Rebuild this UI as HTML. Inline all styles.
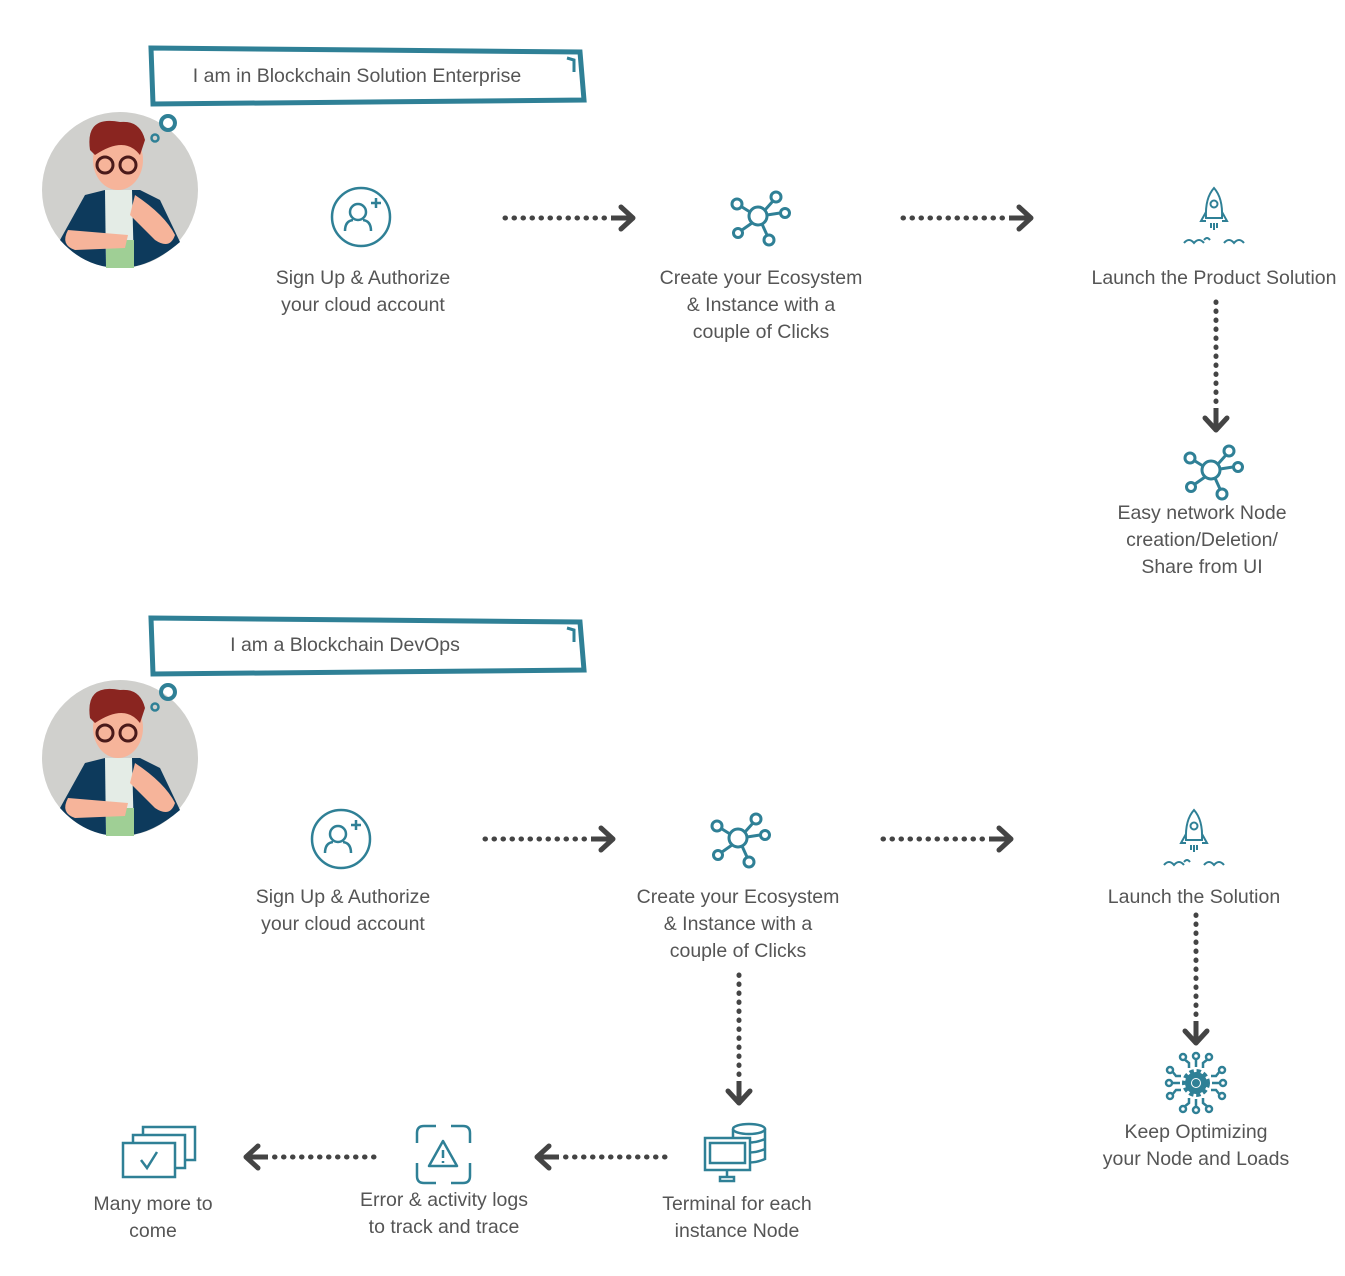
<!DOCTYPE html>
<html><head><meta charset="utf-8"><style>
html,body{margin:0;padding:0;background:#fff;}
svg{display:block;}
text{font-family:"Liberation Sans",sans-serif;font-size:19.5px;fill:#555;text-anchor:middle;}
</style></head><body>
<svg width="1345" height="1276" viewBox="0 0 1345 1276" xmlns="http://www.w3.org/2000/svg">
<defs>
<g id="avatar">
  <circle cx="0" cy="0" r="78" fill="#d0d0cd"/>
  <path d="M-60,50 L-35,5 L-15,0 L20,0 L40,10 L60,52 Q30,78 0,78 Q-35,78 -60,50Z" fill="#0d3a5c"/>
  <path d="M-15,0 L12,0 L14,78 L-14,78Z" fill="#e4ece6"/>
  <path d="M-14,50 L14,50 L14,78 L-14,78Z" fill="#9fcf95"/>
  <path d="M-52,40 Q-60,55 -45,60 L5,58 L8,45 Z" fill="#f6b49a"/>
  <path d="M15,5 Q45,25 55,45 Q50,60 35,50 L10,25Z" fill="#f6b49a"/>
  <ellipse cx="-2" cy="-30" rx="25" ry="30" fill="#f6b49a"/>
  <path d="M-30,-40 Q-35,-75 0,-68 Q20,-70 25,-50 L20,-35 Q5,-55 -25,-35Z" fill="#8a2520"/>
  <circle cx="-15" cy="-25" r="8" fill="none" stroke="#4a1a1a" stroke-width="3"/>
  <circle cx="8" cy="-25" r="8" fill="none" stroke="#4a1a1a" stroke-width="3"/>
</g>
<g id="net" fill="none" stroke="#2f8096" stroke-width="3">
  <circle cx="0" cy="0" r="9"/>
  <line x1="7" y1="-6" x2="15" y2="-15"/><circle cx="18" cy="-19" r="5"/>
  <line x1="9" y1="-1" x2="22" y2="-3"/><circle cx="27" cy="-3" r="4.5"/>
  <line x1="-8" y1="-4" x2="-16" y2="-9"/><circle cx="-21" cy="-12" r="5"/>
  <line x1="-6" y1="7" x2="-16" y2="14"/><circle cx="-20" cy="17" r="4.5"/>
  <line x1="4" y1="8" x2="9" y2="19"/><circle cx="11" cy="24" r="5"/>
</g>
<g id="user" fill="none" stroke="#2f8096" stroke-width="2.5">
  <circle cx="0" cy="0" r="29"/>
  <circle cx="-3" cy="-5" r="8"/>
  <path d="M-16,14 Q-16,4 -8,3 M2,3 Q10,4 10,14"/>
  <path d="M10,-14 h10 M15,-19 v10"/>
</g>
<g id="rocket" fill="none" stroke="#2f8096" stroke-width="2">
  <path d="M0,-30 Q-9,-20 -8,0 L8,0 Q9,-20 0,-30Z"/>
  <circle cx="0" cy="-14" r="3.5"/>
  <path d="M-8,-6 L-13,3 L-8,3 M8,-6 L13,3 L8,3"/>
  <path d="M-3,5 v5 M0,5 v7 M3,5 v5"/>
  <path d="M-30,25 q5,-6 10,0 q5,-6 10,0 M10,25 q5,-6 10,0 q5,-6 10,0 M-10,22 q3,-4 6,0"/>
</g>
<g id="harr" fill="#444">
  <line x1="0" y1="0" x2="100" y2="0" stroke="#444" stroke-width="5" stroke-dasharray="0.5,8.5" stroke-linecap="round"/>
  <path d="M116,-11 L128,0 L116,11" fill="none" stroke="#444" stroke-width="5" stroke-linecap="round" stroke-linejoin="round"/>
  <line x1="106" y1="0" x2="126" y2="0" stroke="#444" stroke-width="5"/>
</g>
</defs>

<path d="M151,48 L580,52 L584,100 L153,104Z" fill="#fff" stroke="#2f8096" stroke-width="5"/>
<path d="M567,58 L574,60 L574,72" fill="none" stroke="#2f8096" stroke-width="3"/>
<text x="357" y="82">I am in Blockchain Solution Enterprise</text>
<path d="M151,618 L580,622 L584,670 L153,674Z" fill="#fff" stroke="#2f8096" stroke-width="5"/>
<path d="M567,628 L574,630 L574,642" fill="none" stroke="#2f8096" stroke-width="3"/>
<text x="345" y="651">I am a Blockchain DevOps</text>

<use href="#avatar" x="120" y="190"/>
<circle cx="168" cy="123" r="7" fill="none" stroke="#2f8096" stroke-width="4"/>
<circle cx="155" cy="138" r="3.5" fill="none" stroke="#2f8096" stroke-width="2.5"/>
<use href="#avatar" x="120" y="758"/>
<circle cx="168" cy="692" r="7" fill="none" stroke="#2f8096" stroke-width="4"/>
<circle cx="155" cy="707" r="3.5" fill="none" stroke="#2f8096" stroke-width="2.5"/>

<use href="#user" x="361" y="217"/>
<text x="363" y="284">Sign Up &amp; Authorize</text>
<text x="363" y="311">your cloud account</text>
<use href="#harr" x="505" y="218"/>
<use href="#net" x="758" y="216"/>
<text x="761" y="284">Create  your Ecosystem</text>
<text x="761" y="311">&amp; Instance with a</text>
<text x="761" y="338">couple of Clicks</text>
<use href="#harr" x="903" y="218"/>
<use href="#rocket" x="1214" y="218"/>
<text x="1214" y="284">Launch the Product Solution</text>
<use href="#harr" transform="translate(1216,302) rotate(90)"/>
<use href="#net" x="1211" y="470"/>
<text x="1202" y="519">Easy network Node</text>
<text x="1202" y="546">creation/Deletion/</text>
<text x="1202" y="573">Share from UI</text>

<use href="#user" x="341" y="839"/>
<text x="343" y="903">Sign Up &amp; Authorize</text>
<text x="343" y="930">your cloud account</text>
<use href="#harr" x="485" y="839"/>
<use href="#net" x="738" y="838"/>
<text x="738" y="903">Create  your Ecosystem</text>
<text x="738" y="930">&amp; Instance with a</text>
<text x="738" y="957">couple of Clicks</text>
<use href="#harr" x="883" y="839"/>
<use href="#rocket" x="1194" y="840"/>
<text x="1194" y="903">Launch the Solution</text>
<use href="#harr" transform="translate(1196,915) rotate(90)"/>
<use href="#harr" transform="translate(739,975) rotate(90)"/>

<g transform="translate(1196,1083)" stroke="#2f8096" fill="none" stroke-width="2.5">
  <circle cx="0" cy="0" r="11" fill="#2f8096" stroke-dasharray="4,2.5" stroke-width="6"/>
  <circle cx="0" cy="0" r="5" fill="#fff" stroke="none"/>
  <circle cx="0" cy="0" r="4" fill="#2f8096" stroke="none"/>
  <path d="M0,-16 v-9 M-7,-15 v-5 l-5,-4 M7,-15 v-5 l5,-4 M0,16 v9 M-7,15 v5 l-5,4 M7,15 v5 l5,4 M-16,0 h-9 M-15,-7 h-5 l-4,-5 M-15,7 h-5 l-4,5 M16,0 h9 M15,-7 h5 l4,-5 M15,7 h5 l4,5"/>
  <circle cx="0" cy="-27" r="3"/><circle cx="-13" cy="-26" r="3"/><circle cx="13" cy="-26" r="3"/>
  <circle cx="0" cy="27" r="3"/><circle cx="-13" cy="26" r="3"/><circle cx="13" cy="26" r="3"/>
  <circle cx="-27" cy="0" r="3"/><circle cx="-26" cy="-13" r="3"/><circle cx="-26" cy="13" r="3"/>
  <circle cx="27" cy="0" r="3"/><circle cx="26" cy="-13" r="3"/><circle cx="26" cy="13" r="3"/>
</g>
<text x="1196" y="1138">Keep Optimizing</text>
<text x="1196" y="1165">your Node and Loads</text>

<g stroke="#2f8096" fill="#fff" stroke-width="2.5">
  <ellipse cx="749" cy="1129" rx="16" ry="5"/>
  <path d="M733,1129 v30 q16,7 32,0 v-30 M733,1139 q16,7 32,0 M733,1149 q16,7 32,0" fill="none"/>
  <rect x="705" y="1138" width="45" height="32"/>
  <rect x="710" y="1143" width="35" height="20"/>
  <path d="M727,1170 v6 M720,1177 h14 v4 h-14z"/>
</g>
<text x="737" y="1210">Terminal for each</text>
<text x="737" y="1237">instance Node</text>
<use href="#harr" transform="translate(665,1157) rotate(180)"/>

<g stroke="#2f8096" fill="none" stroke-width="2.5">
  <path d="M436,1126 h-12 q-7,0 -7,7 v10 M417,1163 v13 q0,7 7,7 h12 M451,1126 h12 q7,0 7,7 v10 M470,1163 v13 q0,7 -7,7 h-12"/>
  <path d="M443,1141 L457,1166 L429,1166Z" stroke-linejoin="round"/>
  <path d="M443,1150 v8 M443,1161 v2"/>
</g>
<text x="444" y="1206">Error &amp; activity logs</text>
<text x="444" y="1233">to track and trace</text>
<use href="#harr" transform="translate(374,1157) rotate(180)"/>

<g stroke="#2f8096" fill="#fff" stroke-width="2.5">
  <rect x="143" y="1127" width="52" height="33"/>
  <rect x="133" y="1135" width="52" height="33"/>
  <rect x="123" y="1143" width="52" height="34"/>
  <path d="M141,1160 l6,8 l10,-16" fill="none"/>
</g>
<text x="153" y="1210">Many more to</text>
<text x="153" y="1237">come</text>
</svg>
</body></html>
